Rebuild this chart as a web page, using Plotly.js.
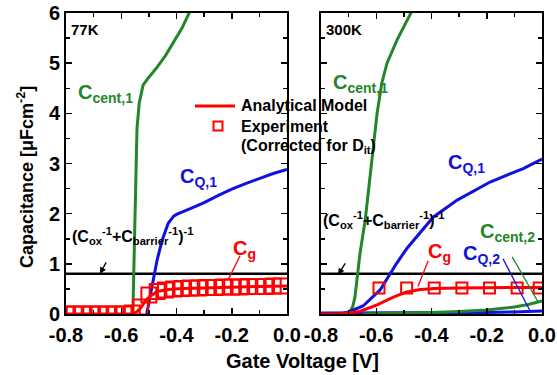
<!DOCTYPE html>
<html><head><meta charset="utf-8">
<script src="https://cdn.plot.ly/plotly-3.0.1.min.js"></script>
<style>html,body{margin:0;padding:0;background:#fff}#chart{width:557px;height:375px}</style>
</head><body><div id="chart"></div>
<script>
// ---- data ----
const xTickVals = [-0.8, -0.6, -0.4, -0.2, 0.0];
const xTickText = ['-0.8', '-0.6', '-0.4', '-0.2', '0.0'];
const yTickVals = [0, 1, 2, 3, 4, 5, 6];
const legendLabels = ['Analytical Model', 'Experiment', '(Corrected for D<sub>it</sub>)'];

const cBarrierLevel = 0.8;

// 77 K panel
const k77_centX = [-0.558, -0.553, -0.549, -0.543, -0.535, -0.527, -0.521, -0.50, -0.47, -0.44, -0.41, -0.38, -0.35];
const k77_centY = [0, 1.2, 2.3, 3.7, 4.2, 4.45, 4.56, 4.72, 4.92, 5.15, 5.42, 5.7, 6.05];
const k77_qX = [-0.508, -0.488, -0.47, -0.452, -0.43, -0.41, -0.398, -0.35, -0.3, -0.25, -0.2, -0.15, -0.1, -0.05, 0];
const k77_qY = [0, 0.54, 1.08, 1.47, 1.81, 1.95, 1.99, 2.1, 2.22, 2.36, 2.49, 2.6, 2.7, 2.8, 2.88];
const k77_modelX = [-0.8, -0.56, -0.545, -0.53, -0.51, -0.494, -0.475, -0.46, -0.43, -0.38, -0.3, -0.2, -0.1, 0];
const k77_modelY = [0.0, 0.0, 0.04, 0.12, 0.28, 0.36, 0.43, 0.46, 0.49, 0.51, 0.52, 0.54, 0.55, 0.56];
const k77_expX = [-0.80, -0.77, -0.74, -0.71, -0.68, -0.65, -0.62, -0.59, -0.56, -0.53, -0.50, -0.47, -0.44, -0.41, -0.38, -0.35, -0.32, -0.29, -0.26, -0.23, -0.20, -0.17, -0.14, -0.11, -0.08, -0.05, -0.02];
const k77_expY = [0.0, 0.0, 0.0, 0.0, 0.0, 0.0, 0.0, 0.0, 0.02, 0.14, 0.38, 0.45, 0.48, 0.5, 0.51, 0.52, 0.52, 0.53, 0.53, 0.54, 0.54, 0.54, 0.55, 0.55, 0.55, 0.56, 0.56];

// 300 K panel
const k300_cent1X = [-0.731, -0.71, -0.695, -0.685, -0.677, -0.666, -0.659, -0.64, -0.625, -0.61, -0.597, -0.58, -0.561, -0.525, -0.47];
const k300_cent1Y = [0, 0.01, 0.05, 0.15, 0.34, 0.8, 1.2, 1.87, 2.6, 3.3, 4.0, 4.6, 5.0, 5.46, 6.05];
const k300_q1X = [-0.8, -0.73, -0.70, -0.648, -0.586, -0.55, -0.525, -0.49, -0.449, -0.42, -0.394, -0.307, -0.188, -0.068, 0];
const k300_q1Y = [0, 0, 0.04, 0.16, 0.48, 0.8, 1.02, 1.3, 1.57, 1.78, 1.93, 2.27, 2.63, 2.9, 3.09];
const k300_cent2X = [-0.65, -0.5, -0.4, -0.3, -0.2, -0.1, -0.05, 0];
const k300_cent2Y = [0, 0.01, 0.03, 0.05, 0.08, 0.14, 0.19, 0.26];
const k300_q2X = [-0.8, -0.6, -0.4, -0.2, -0.1, 0];
const k300_q2Y = [0.02, 0.02, 0.02, 0.03, 0.04, 0.06];
const k300_modelX = [-0.8, -0.73, -0.66, -0.597, -0.54, -0.49, -0.44, -0.39, -0.3, -0.2, -0.1, 0];
const k300_modelY = [0, 0, 0.05, 0.18, 0.33, 0.44, 0.49, 0.51, 0.52, 0.52, 0.53, 0.53];
const k300_expX = [-0.59, -0.49, -0.39, -0.29, -0.19, -0.09, -0.01];
const k300_expY = [0.52, 0.52, 0.52, 0.52, 0.52, 0.52, 0.52];

// ---- styling ----
const GREEN = '#23862a', BLUE = '#1010e0', RED = '#ff0000';
const FONT = 'Liberation Sans, Arial, sans-serif';
const W = 557, H = 375;
const px = v => v / W, py = v => 1 - v / H;

function line(x, y, color, xa, ya, extra) {
  return Object.assign({x, y, type: 'scatter', mode: 'lines', xaxis: xa, yaxis: ya,
    line: {color, width: 3}, showlegend: false, hoverinfo: 'skip'}, extra || {});
}

const traces = [
  line([-0.8, 0], [cBarrierLevel, cBarrierLevel], '#000', 'x', 'y', {line: {color: '#000', width: 2.5}}),
  line([-0.8, 0], [cBarrierLevel, cBarrierLevel], '#000', 'x2', 'y2', {line: {color: '#000', width: 2.5}}),
  line(k77_centX, k77_centY, GREEN, 'x', 'y'),
  line(k77_qX, k77_qY, BLUE, 'x', 'y'),
  {x: k77_expX, y: k77_expY, xaxis: 'x', yaxis: 'y', type: 'scatter', mode: 'markers', showlegend: false,
   marker: {symbol: 'square-open', size: 15, color: RED, line: {width: 2, color: RED}}, hoverinfo: 'skip'},
  line(k77_modelX, k77_modelY, RED, 'x', 'y'),
  line(k300_q2X, k300_q2Y, BLUE, 'x2', 'y2'),
  line(k300_cent2X, k300_cent2Y, GREEN, 'x2', 'y2'),
  line(k300_cent1X, k300_cent1Y, GREEN, 'x2', 'y2'),
  line(k300_q1X, k300_q1Y, BLUE, 'x2', 'y2'),
  line(k300_modelX, k300_modelY, RED, 'x2', 'y2'),
  {x: k300_expX, y: k300_expY, xaxis: 'x2', yaxis: 'y2', type: 'scatter', mode: 'markers', showlegend: false,
   marker: {symbol: 'square-open', size: 11, color: RED, line: {width: 2, color: RED}}, hoverinfo: 'skip'}
];

const axisCommon = {
  showline: true, linecolor: '#000', linewidth: 2, mirror: 'allticks',
  ticks: 'inside', ticklen: 6, tickwidth: 1.5, tickcolor: '#000',
  zeroline: false, showgrid: false, fixedrange: true,
  tickfont: {family: FONT, size: 20, color: '#000', weight: 'bold'}
};
const xAx = dom => Object.assign({}, axisCommon, {domain: dom, range: [-0.8, 0],
  tickmode: 'array', tickvals: xTickVals, ticktext: xTickText, ticklabelstandoff: 2,
  minor: {dtick: 0.1, ticks: 'inside', ticklen: 4, tickwidth: 1.5, tickcolor: '#000', showgrid: false}});
const yAx = (showLabels, anchor) => Object.assign({}, axisCommon, {domain: [py(314), py(13)], range: [0, 6],
  tickmode: 'array', tickvals: yTickVals, showticklabels: showLabels, anchor,
  minor: {dtick: 0.5, ticks: 'inside', ticklen: 4, tickwidth: 1.5, tickcolor: '#000', showgrid: false}});

const lbl = (text, x, y, color, size, extra) => Object.assign({
  text, x: px(x), y: py(y), xref: 'paper', yref: 'paper', xanchor: 'left', yanchor: 'middle',
  showarrow: false, font: {family: FONT, size: size || 20, color, weight: 'bold'}}, extra || {});

const annotations = [
  lbl('77K', 69, 29, '#000', 15),
  lbl('300K', 324, 29, '#000', 15),
  lbl('C<sub>cent,1</sub>', 76, 93, GREEN),
  lbl('C<sub>Q,1</sub>', 178, 177, BLUE),
  lbl('C<sub>g</sub>', 231, 249, RED),
  lbl('(C<sub>ox</sub><sup>-1</sup>+C<sub>barrier</sub><sup>-1</sup>)<sup>-1</sup>', 70, 236, '#000', 16),
  lbl('C<sub>cent,1</sub>', 331, 83, GREEN),
  lbl('C<sub>Q,1</sub>', 446, 163, BLUE),
  lbl('(C<sub>ox</sub><sup>-1</sup>+C<sub>barrier</sub><sup>-1</sup>)<sup>-1</sup>', 321, 220, '#000', 16),
  lbl('C<sub>g</sub>', 426, 252, RED),
  lbl('C<sub>Q,2</sub>', 461, 254, BLUE),
  lbl('C<sub>cent,2</sub>', 478, 233, GREEN),
  lbl(legendLabels[0], 239, 106, '#000', 16),
  lbl(legendLabels[1], 239, 126, '#000', 16),
  lbl(legendLabels[2], 239, 146, '#000', 16),
  lbl('Gate Voltage [V]', 302, 361, '#000', 20, {xanchor: 'center'}),
  lbl('Capacitance [μFcm<sup>-2</sup>]', 25, 177, '#000', 18, {xanchor: 'center', textangle: -90}),
  {x: -0.677, y: 0.8, xref: 'x', yref: 'y', ax: 7, ay: -13, showarrow: true, arrowhead: 2,
   arrowsize: 1, arrowwidth: 1.3, arrowcolor: '#000', text: ''},
  {x: -0.738, y: 0.78, xref: 'x2', yref: 'y2', ax: 8, ay: -13, showarrow: true, arrowhead: 2,
   arrowsize: 1, arrowwidth: 1.3, arrowcolor: '#000', text: ''}
];

const seg = (x0, y0, x1, y1, color, xr, yr) => ({type: 'line', xref: xr, yref: yr, x0, y0, x1, y1,
  line: {color, width: 1.3}});
const shapes = [
  seg(-0.170, 1.16, -0.213, 0.68, RED, 'x', 'y'),
  seg(-0.412, 1.06, -0.449, 0.55, RED, 'x2', 'y2'),
  seg(-0.141, 1.10, -0.043, 0.06, BLUE, 'x2', 'y2'),
  seg(-0.108, 1.14, -0.014, 0.24, GREEN, 'x2', 'y2'),
  // legend symbols
  {type: 'line', xref: 'paper', yref: 'paper', x0: px(195), x1: px(235), y0: py(106), y1: py(106),
   line: {color: RED, width: 3}},
  {type: 'rect', xref: 'paper', yref: 'paper', x0: px(213.5), x1: px(222.5), y0: py(130.5), y1: py(121.5),
   line: {color: RED, width: 2}, fillcolor: 'rgba(0,0,0,0)'}
];

const layout = {
  width: W, height: H, margin: {l: 0, r: 0, t: 0, b: 0},
  paper_bgcolor: '#fff', plot_bgcolor: '#fff',
  font: {family: FONT, color: '#000'},
  xaxis: xAx([px(66), px(287)]), yaxis: yAx(true, 'x'),
  xaxis2: xAx([px(321), px(542)]), yaxis2: yAx(false, 'x2'),
  showlegend: false,
  annotations, shapes
};
layout.xaxis.anchor = 'y';
layout.xaxis2.anchor = 'y2';

Plotly.newPlot('chart', traces, layout, {staticPlot: true, displayModeBar: false});
</script></body></html>
